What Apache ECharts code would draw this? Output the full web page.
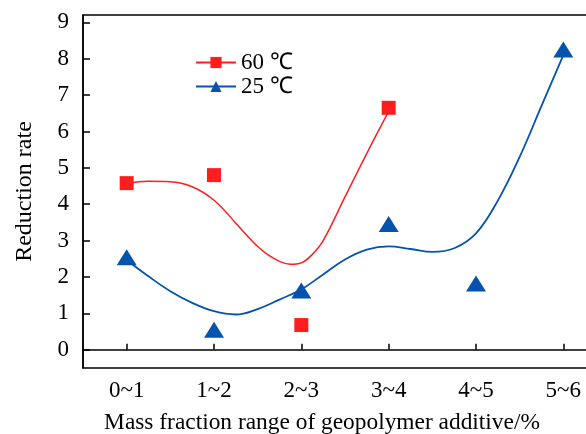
<!DOCTYPE html>
<html lang="en">
<head>
  <meta charset="UTF-8">
  <title>Reduction rate</title>
  <script src="https://cdn.jsdelivr.net/npm/echarts@6/dist/echarts.min.js"></script>
  <style>
    html, body { margin: 0; padding: 0; background: #fff; }
    #main { width: 586px; height: 434px; }
  </style>
</head>
<body>
<div id="main"></div>
<script>
// categories on the x axis, placed at positions 1..6
var categories = ['0~1', '1~2', '2~3', '3~4', '4~5', '5~6'];
var yTicks = [0, 1, 2, 3, 4, 5, 6, 7, 8, 9];

// measured points
var pts60 = [[1, 4.58], [2, 4.80], [3, 0.68], [4, 6.65]];
var pts25 = [[1, 2.54], [2, 0.55], [3, 1.63], [4, 3.46], [5, 1.82], [6, 8.25]];

// fitted curves
var fit60 = [[1, 4.57], [1.25, 4.63], [1.5, 4.62], [1.75, 4.48], [2, 4.11],
  [2.25, 3.48], [2.375, 3.15], [2.5, 2.84], [2.625, 2.6], [2.75, 2.43],
  [2.875, 2.35], [3, 2.39], [3.125, 2.62], [3.25, 3.0], [3.5, 4.2],
  [3.75, 5.4], [4, 6.55]];
var fit25 = [[1, 2.47], [1.25, 2.02], [1.5, 1.61], [1.75, 1.29], [2, 1.06],
  [2.25, 0.97], [2.5, 1.12], [2.75, 1.38], [3, 1.66], [3.25, 2.07],
  [3.5, 2.48], [3.75, 2.75], [4, 2.84], [4.25, 2.77], [4.5, 2.69],
  [4.75, 2.79], [5, 3.2], [5.25, 4.1], [5.5, 5.3], [5.75, 6.7], [6, 8.1]];

var red = '#ff1e1e';
var blue = '#0553ad';
var font = 'Liberation Serif';
var legendText = { fontFamily: font, fontSize: 23, color: '#000' };

var myChart = echarts.init(document.getElementById('main'));

var option = {
  backgroundColor: '#fff',
  animation: false,
  textStyle: { fontFamily: font },
  grid: {
    left: 83, top: 15, width: 524, height: 353,
    outerBoundsMode: 'none',
    containLabel: false,
    show: true, borderColor: '#000', borderWidth: 1.5, backgroundColor: 'transparent'
  },
  legend: {
    orient: 'vertical',
    left: 190, top: 46,
    itemWidth: 40, itemHeight: 14, itemGap: 1,
    data: [
      { name: '60 ℃', textStyle: legendText },
      { name: '25 ℃', textStyle: legendText }
    ],
    textStyle: legendText
  },
  xAxis: {
    type: 'value',
    min: 0.5, max: 6.5,
    name: 'Mass fraction range of geopolymer additive/%',
    nameLocation: 'middle',
    nameGap: 43,
    nameTextStyle: { fontFamily: font, fontSize: 23.4, color: '#000', padding: [0, 46, 0, 0] },
    axisLine: { lineStyle: { color: '#000', width: 1.5 } },
    axisTick: { inside: true, length: 6, customValues: [1, 2, 3, 4, 5, 6], lineStyle: { color: '#000', width: 1.5 } },
    axisLabel: {
      customValues: [1, 2, 3, 4, 5, 6],
      margin: 11,
      fontFamily: font, fontSize: 23, color: '#000',
      formatter: function (v) { return categories[Math.round(v) - 1]; }
    },
    splitLine: { show: false }
  },
  yAxis: {
    type: 'value',
    min: -0.5, max: 9.2,
    name: 'Reduction rate',
    nameLocation: 'middle',
    nameGap: 46,
    nameTextStyle: { fontFamily: font, fontSize: 24, color: '#000' },
    axisLine: { show: true, lineStyle: { color: '#000', width: 1.5 } },
    axisTick: { show: true, inside: true, length: 7, customValues: yTicks, lineStyle: { color: '#000', width: 1.5 } },
    axisLabel: {
      customValues: yTicks,
      margin: 14,
      fontFamily: font, fontSize: 23, color: '#000'
    },
    splitLine: { show: false }
  },
  series: [
    {
      name: '60 ℃', type: 'line', data: fit60, smooth: 0.4,
      showSymbol: false, symbol: 'rect', symbolSize: 14,
      itemStyle: { color: red }, lineStyle: { color: red, width: 1.5 }, z: 2
    },
    {
      name: '25 ℃', type: 'line', data: fit25, smooth: 0.4,
      showSymbol: false, symbol: 'triangle', symbolSize: [20, 16],
      itemStyle: { color: blue }, lineStyle: { color: blue, width: 1.8 }, z: 2
    },
    {
      name: 'p60', type: 'scatter', data: pts60,
      symbol: 'rect', symbolSize: 14, itemStyle: { color: red, opacity: 1 }, z: 3
    },
    {
      name: 'p25', type: 'scatter', data: pts25,
      symbol: 'triangle', symbolSize: [20, 16], itemStyle: { color: blue, opacity: 1 }, z: 3
    }
  ]
};

myChart.setOption(option);
</script>
</body>
</html>
